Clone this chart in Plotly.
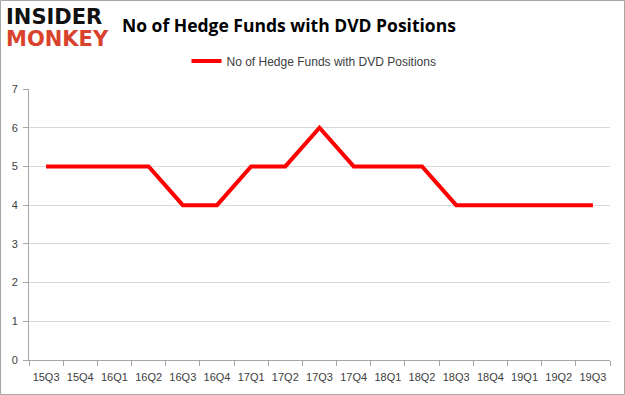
import plotly.graph_objects as go

quarters = ["15Q3", "15Q4", "16Q1", "16Q2", "16Q3", "16Q4", "17Q1", "17Q2", "17Q3",
            "17Q4", "18Q1", "18Q2", "18Q3", "18Q4", "19Q1", "19Q2", "19Q3"]
hedge_funds = [5, 5, 5, 5, 4, 4, 5, 5, 6, 5, 5, 5, 4, 4, 4, 4, 4]
series_name = "No of Hedge Funds with DVD Positions"
y_ticks = [0, 1, 2, 3, 4, 5, 6, 7]

L, R, T, B = 29, 15, 89, 35
PW, PH = 625 - L - R, 395 - T - B

def px(x):
    return (x - L) / PW

def py(y):
    return (395 - B - y) / PH

fig = go.Figure()
fig.add_trace(go.Scatter(
    x=quarters, y=hedge_funds, mode="lines", name=series_name,
    line=dict(color="#FF0000", width=4), hoverinfo="skip",
))

fig.update_layout(
    width=625, height=395,
    margin=dict(l=L, r=R, t=T, b=B, autoexpand=False),
    paper_bgcolor="white", plot_bgcolor="white",
    font=dict(family="Liberation Sans, Arial, sans-serif", size=11, color="#404040"),
    showlegend=True,
    legend=dict(orientation="h", x=px(314), xanchor="center", y=py(61), yanchor="middle",
                font=dict(size=12, color="#404040"), itemwidth=30),
)
fig.add_annotation(text="<b>No of Hedge Funds with DVD Positions</b>",
                   xref="paper", yref="paper", x=px(120), y=py(25),
                   xanchor="left", yanchor="middle", showarrow=False,
                   font=dict(family="Open Sans, Liberation Sans, sans-serif", size=17.5, color="#000000"))
fig.add_annotation(text="<b>INSIDER</b>", xref="paper", yref="paper",
                   x=px(4), y=py(17), xanchor="left", yanchor="middle",
                   showarrow=False,
                   font=dict(family="DejaVu Sans, sans-serif", size=21, color="#111111"))
fig.add_annotation(text="<b>MONKEY</b>", xref="paper", yref="paper",
                   x=px(4), y=py(39), xanchor="left", yanchor="middle",
                   showarrow=False,
                   font=dict(family="DejaVu Sans, sans-serif", size=21, color="#D9432E"))

fig.update_xaxes(
    type="category", tickson="boundaries", ticks="outside", ticklen=5,
    tickcolor="#A6A6A6", showline=True, linecolor="#A6A6A6", linewidth=1,
    showgrid=False, tickfont=dict(size=11, color="#404040"), tickangle=0,
    ticklabelstandoff=7,
    range=[-0.5, len(quarters) - 0.5], automargin=False,
)
fig.update_yaxes(
    range=[0, 7], tickvals=y_ticks, showgrid=True, gridcolor="#D9D9D9", gridwidth=1,
    showline=True, linecolor="#A6A6A6", ticks="outside", ticklen=5, tickcolor="#A6A6A6",
    zeroline=False, tickfont=dict(size=11, color="#404040"), automargin=False,
    ticklabelstandoff=3,
)
fig.add_shape(type="rect", xref="paper", yref="paper",
              x0=px(0.5), x1=px(624.5), y0=py(394.5), y1=py(0.5),
              line=dict(color="#A6A6A6", width=1))

fig.write_html("out.html", config={"displayModeBar": False},
               post_script="document.body.style.margin='0';document.body.style.overflow='hidden';")
